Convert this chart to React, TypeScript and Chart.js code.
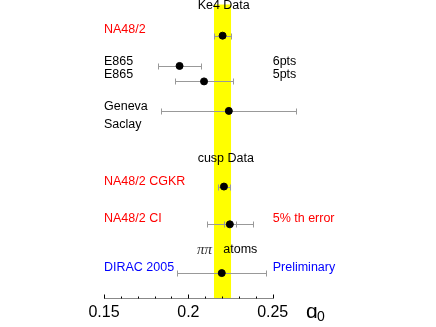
import React, { useEffect, useRef } from "react";
import { Chart, registerables } from "chart.js";

Chart.register(...registerables);

// ---- data ----
const experiments = ["NA48/2", "E865 6pts", "E865 5pts", "Geneva Saclay", "NA48/2 CGKR", "NA48/2 CI", "DIRAC 2005"];
const a0Values = [0.2203, 0.1948, 0.2093, 0.224, 0.2211, 0.2246, 0.2198];
const a0Errors = [0.0049, 0.0129, 0.0172, 0.04, 0.0034, 0.0138, 0.0265];
const a0StatErrors = [null, null, null, null, null, 0.0036, null];
const rows = [17.16, 15.18, 14.17, 12.24, 7.29, 4.82, 1.63];
const bandRange = [0.2152, 0.2253];
const xTicksMajor = [0.15, 0.2, 0.25];
const xTickLabels = ["0.15", "0.2", "0.25"];
const xMin = 0.15;
const xMax = 0.25;
const yMin = 0;
const yMax = 19.2;

type Lbl = { text: string; x: number; y: number; color: string; align: CanvasTextAlign; font?: string };
const textLabels: Lbl[] = [
  { text: "Ke4 Data", x: 0.2055, y: 19.1, color: "#000", align: "left" },
  { text: "NA48/2", x: 0.15, y: 17.56, color: "#ff0000", align: "left" },
  { text: "E865", x: 0.15, y: 15.45, color: "#000", align: "left" },
  { text: "E865", x: 0.15, y: 14.6, color: "#000", align: "left" },
  { text: "6pts", x: 0.25, y: 15.45, color: "#000", align: "left" },
  { text: "5pts", x: 0.25, y: 14.6, color: "#000", align: "left" },
  { text: "Geneva", x: 0.15, y: 12.53, color: "#000", align: "left" },
  { text: "Saclay", x: 0.15, y: 11.37, color: "#000", align: "left" },
  { text: "cusp Data", x: 0.2055, y: 9.14, color: "#000", align: "left" },
  { text: "NA48/2 CGKR", x: 0.15, y: 7.63, color: "#ff0000", align: "left" },
  { text: "NA48/2 CI", x: 0.15, y: 5.18, color: "#ff0000", align: "left" },
  { text: "5% th error", x: 0.25, y: 5.18, color: "#ff0000", align: "left" },
  { text: "ππ", x: 0.2051, y: 3.15, color: "#333", align: "left", font: 'italic 15px "Liberation Serif"' },
  { text: "atoms", x: 0.2207, y: 3.18, color: "#000", align: "left" },
  { text: "DIRAC 2005", x: 0.15, y: 2.02, color: "#0000ff", align: "left" },
  { text: "Preliminary", x: 0.25, y: 2.02, color: "#0000ff", align: "left" },
];

const LABEL_FONT = '12.5px "Liberation Sans"';

const drawPlugin = {
  id: "customDraw",
  beforeDatasetsDraw(chart: any) {
    const ctx = chart.ctx as CanvasRenderingContext2D;
    const xs = chart.scales.x;
    const ys = chart.scales.y;
    const area = chart.chartArea;
    ctx.save();
    // band
    const b0 = xs.getPixelForValue(bandRange[0]);
    const b1 = xs.getPixelForValue(bandRange[1]);
    ctx.fillStyle = "#ffff00";
    ctx.fillRect(b0, area.top, b1 - b0, area.bottom - area.top);
    // error bars
    ctx.strokeStyle = "#999999";
    ctx.lineWidth = 1;
    const drawBar = (v: number, e: number, yv: number) => {
      const y = Math.round(ys.getPixelForValue(yv)) + 0.5;
      const l = Math.round(xs.getPixelForValue(v - e)) + 0.5;
      const r = Math.round(xs.getPixelForValue(v + e)) + 0.5;
      ctx.beginPath();
      ctx.moveTo(l, y);
      ctx.lineTo(r, y);
      ctx.moveTo(l, y - 3);
      ctx.lineTo(l, y + 3);
      ctx.moveTo(r, y - 3);
      ctx.lineTo(r, y + 3);
      ctx.stroke();
    };
    a0Values.forEach((v, i) => {
      drawBar(v, a0Errors[i], rows[i]);
      const s = a0StatErrors[i];
      if (s != null) drawBar(v, s, rows[i]);
    });
    ctx.restore();
  },
  afterDraw(chart: any) {
    const ctx = chart.ctx as CanvasRenderingContext2D;
    const xs = chart.scales.x;
    const ys = chart.scales.y;
    const area = chart.chartArea;
    ctx.save();
    // axis
    const ay = Math.round(area.bottom) + 0.5;
    const x0 = xs.getPixelForValue(xMin);
    const x1 = xs.getPixelForValue(xMax);
    ctx.strokeStyle = "#888888";
    ctx.lineWidth = 1;
    ctx.beginPath();
    ctx.moveTo(x0, ay);
    ctx.lineTo(x1 + 0.5, ay);
    ctx.stroke();
    ctx.strokeStyle = "#000";
    for (let k = 0; k <= 10; k++) {
      const v = xMin + k * 0.01;
      const px = Math.round(xs.getPixelForValue(v)) + 0.5;
      const major = k % 5 === 0;
      ctx.beginPath();
      ctx.moveTo(px, ay);
      ctx.lineTo(px, ay - (major ? 4 : 2));
      ctx.stroke();
    }
    ctx.fillStyle = "#000";
    ctx.font = '16px "Liberation Sans"';
    ctx.textAlign = "center";
    ctx.textBaseline = "middle";
    xTicksMajor.forEach((v, i) => {
      ctx.fillText(xTickLabels[i], xs.getPixelForValue(v), ay + 14);
    });
    // axis title
    ctx.textAlign = "left";
    ctx.font = '21px "Liberation Sans"';
    ctx.fillText("ɑ", 306, ay + 14);
    ctx.font = '14px "Liberation Sans"';
    ctx.fillText("0", 317, ay + 19);
    // labels
    textLabels.forEach((l) => {
      ctx.font = l.font || LABEL_FONT;
      ctx.fillStyle = l.color;
      ctx.textAlign = l.align;
      ctx.textBaseline = "middle";
      ctx.fillText(l.text, xs.getPixelForValue(l.x), ys.getPixelForValue(l.y));
    });
    ctx.restore();
  },
};

export default function App() {
  const ref = useRef<HTMLCanvasElement | null>(null);
  useEffect(() => {
    document.body.style.margin = "0";
    if (!ref.current) return;
    const chart = new Chart(ref.current, {
      type: "scatter",
      data: {
        datasets: [
          {
            label: "a0",
            data: a0Values.map((v, i) => ({ x: v, y: rows[i] })),
            backgroundColor: "#000",
            borderColor: "#000",
            pointRadius: 3.5,
            pointHoverRadius: 3.5,
            clip: false as any,
          },
        ],
      },
      options: {
        responsive: false,
        animation: false,
        layout: { padding: { left: 104, right: 163.3, top: 0, bottom: 29 } },
        plugins: { legend: { display: false }, tooltip: { enabled: false } },
        scales: {
          x: { type: "linear", min: xMin, max: xMax, display: false },
          y: { type: "linear", min: yMin, max: yMax, display: false },
        },
      },
      plugins: [drawPlugin],
    });
    return () => chart.destroy();
  }, []);
  return (
    <div style={{ width: 436, height: 327, background: "#fff" }}>
      <canvas ref={ref} width={436} height={327} />
    </div>
  );
}
